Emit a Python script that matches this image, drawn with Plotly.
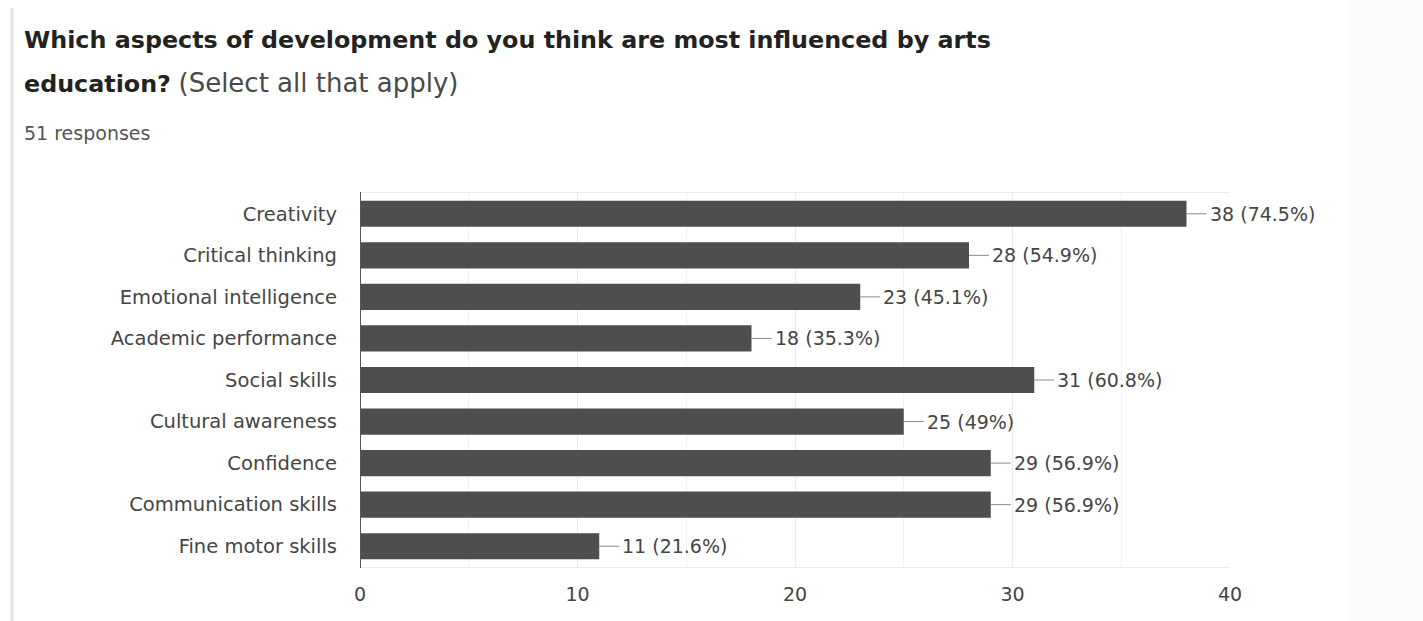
import plotly.graph_objects as go

# Survey results: counts per development aspect (51 responses)
categories = [
    "Creativity",
    "Critical thinking",
    "Emotional intelligence",
    "Academic performance",
    "Social skills",
    "Cultural awareness",
    "Confidence",
    "Communication skills",
    "Fine motor skills",
]
counts = [38, 28, 23, 18, 31, 25, 29, 29, 11]
percent_labels = ["74.5%", "54.9%", "45.1%", "35.3%", "60.8%", "49%", "56.9%", "56.9%", "21.6%"]
x_ticks = [0, 10, 20, 30, 40]
total_responses = 51

BAR = "#4e4e4e"
GRID = "#ebebeb"
TICK = "#454545"
CHART_FONT = "DejaVu Sans, Verdana, sans-serif"
TITLE_FONT = "DejaVu Sans, sans-serif"

W, H = 1423, 621
L, R, T, B = 360, 193, 193, 54
PW, PH = W - L - R, H - T - B


def px_x(x):
    """Pixel column -> paper x."""
    return (x - L) / PW


def px_y(y):
    """Pixel row -> paper y."""
    return 1 - (y - T) / PH


fig = go.Figure()
fig.add_trace(go.Bar(
    x=counts,
    y=categories,
    orientation="h",
    marker=dict(color=BAR, line=dict(width=0)),
    width=0.63,
    hoverinfo="skip",
))

# Value labels joined to the bar ends by a short leader line
for cat, n, pct in zip(categories, counts, percent_labels):
    fig.add_annotation(
        x=n, y=cat, xref="x", yref="y",
        text=f"{n} ({pct})",
        showarrow=True, arrowhead=0, arrowwidth=1, arrowcolor="#8a8a8a",
        ax=21, ay=0, standoff=0, startstandoff=1,
        xanchor="left",
        font=dict(family=CHART_FONT, size=19, color=TICK),
    )

# Title block
fig.add_annotation(
    x=px_x(22), y=px_y(40), xref="paper", yref="paper", xanchor="left", yanchor="middle",
    text="<b>Which aspects of development do you think are most influenced by arts</b>",
    showarrow=False, font=dict(family=TITLE_FONT, size=23.8, color="#222222"),
)
fig.add_annotation(
    x=px_x(22), y=px_y(83), xref="paper", yref="paper", xanchor="left", yanchor="middle",
    text="<b>education?</b> <span style='color:#4a4a4a;font-size:26px'>(Select all that apply)</span>",
    showarrow=False, font=dict(family=TITLE_FONT, size=23.8, color="#222222"),
)
fig.add_annotation(
    x=px_x(22), y=px_y(133), xref="paper", yref="paper", xanchor="left", yanchor="middle",
    text=f"{total_responses} responses",
    showarrow=False, font=dict(family=TITLE_FONT, size=19, color="#555555"),
)

# Light vertical accent on the left edge of the card
fig.add_shape(type="line", xref="paper", yref="paper",
              x0=px_x(12), x1=px_x(12), y0=px_y(621), y1=px_y(8),
              line=dict(color="#e4e4e4", width=3))

# Faint off-white margin on the far right
fig.add_shape(type="rect", xref="paper", yref="paper", layer="below",
              x0=px_x(1348), x1=px_x(1423), y0=px_y(621), y1=px_y(0),
              fillcolor="#fcfcfc", line=dict(width=0))

# Dark baseline at zero
fig.add_shape(type="line", xref="x", yref="paper", x0=0, x1=0, y0=px_y(568), y1=px_y(192),
              line=dict(color="#555555", width=2))

fig.update_layout(
    width=W, height=H,
    margin=dict(l=L, r=R, t=T, b=B),
    paper_bgcolor="white", plot_bgcolor="white",
    showlegend=False,
    xaxis=dict(
        range=[0, 40], tickvals=x_ticks, showgrid=True, gridcolor=GRID, gridwidth=1,
        minor=dict(dtick=5, showgrid=True, gridcolor="#f2f2f2"),
        zeroline=False, showline=True, linecolor=GRID, mirror=True,
        ticks="", tickfont=dict(family=CHART_FONT, size=19, color=TICK),
        ticklabelstandoff=10, fixedrange=True,
    ),
    yaxis=dict(
        categoryorder="array", categoryarray=categories, autorange="reversed",
        showgrid=False, zeroline=False, showline=False,
        ticks="", ticklabelstandoff=22,
        tickfont=dict(family=CHART_FONT, size=19.5, color=TICK), fixedrange=True,
    ),
)

fig.write_html("out.html", config={"displayModeBar": False})
